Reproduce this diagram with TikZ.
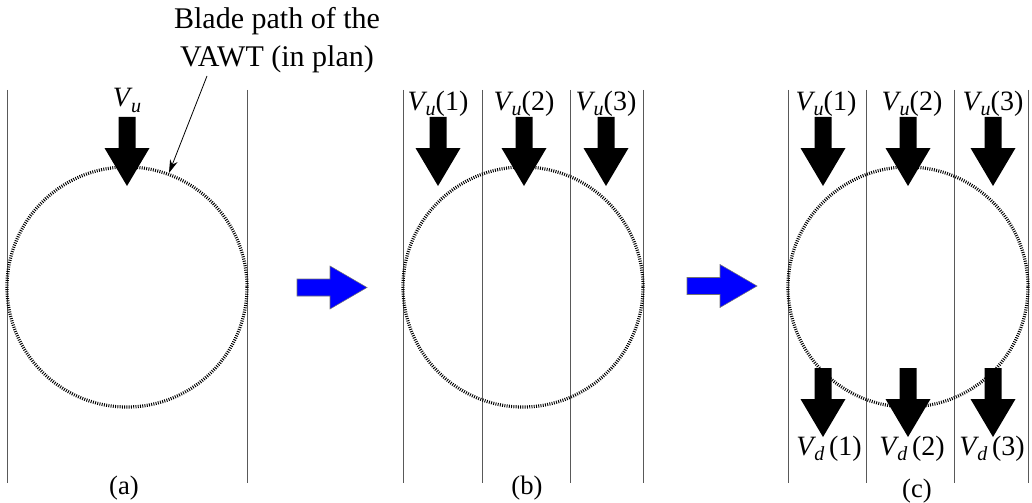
\documentclass[tikz,border=0pt]{standalone}
\usepackage{fontspec}
\setmainfont{Liberation Serif}
\usetikzlibrary{arrows.meta}
\definecolor{arrowblue}{RGB}{0,0,255}
\newcommand{\Vsub}[2]{\textit{V}\kern-0.06em\raisebox{-0.45ex}{\fontsize{15}{15}\selectfont\textit{#1}}#2}
\tikzset{
  guide/.style={draw=black!65, line width=0.6pt},
  blade/.style={draw=black, line width=2.4pt, dash pattern=on 0.7pt off 1.0pt},
  lbl/.style={font=\fontsize{21}{25}\selectfont, inner sep=0pt, anchor=base},
  panel/.style={font=\fontsize{20}{24}\selectfont, inner sep=0pt},
  note/.style={font=\fontsize{22.5}{29}\selectfont, align=center, inner sep=0pt},
  bigdown/.pic={\fill[black] (-8.5,0) -- (8.5,0) -- (8.5,31) -- (22.5,31) -- (0,69) -- (-22.5,31) -- (-8.5,31) -- cycle;},
  bluearrow/.pic={\filldraw[fill=arrowblue, draw=black!55, line width=0.4pt] (0,-8.5) -- (33,-8.5) -- (33,-21.5) -- (70,0) -- (33,21.5) -- (33,8.5) -- (0,8.5) -- cycle;},
}
\begin{document}
\begin{tikzpicture}[x=0.75pt, y=-0.75pt]
\useasboundingbox (0,0) rectangle (1032,503);
% ---------- panel (a)
\draw[guide] (7,90) -- (7,483);
\draw[guide] (247,90) -- (247,483);
\draw[blade] (127,287) circle[radius=120];
\pic at (127,117) {bigdown};
\node[lbl] (vua) at (127,107) {\Vsub{u}{}};
\node[panel] (pa) at (124,488) {(a)};
\node[note] (blade) at (277,40) {Blade path of the\\VAWT (in plan)};
\coordinate (bpstart) at (207,76);
\coordinate (bptip) at (169,173);
\draw[line width=0.6pt, -{Stealth[length=10pt,width=6pt]}] (bpstart) -- (bptip);
% blue arrow 1
\pic at (297,287.5) {bluearrow};
% ---------- panel (b)
\foreach \x in {403,482,570,643} \draw[guide] (\x,90) -- (\x,483);
\draw[blade] (523,287) circle[radius=120];
\pic at (438,117) {bigdown};
\pic at (524,117) {bigdown};
\pic at (606,117) {bigdown};
\node[lbl] (vub1) at (438,110) {\Vsub{u}{(1)}};
\node[lbl] (vub2) at (524,110) {\Vsub{u}{(2)}};
\node[lbl] (vub3) at (606,110) {\Vsub{u}{(3)}};
\node[panel] (pb) at (527,488) {(b)};
% blue arrow 2
\pic at (687,286) {bluearrow};
% ---------- panel (c)
\foreach \x in {788,866,954,1028} \draw[guide] (\x,90) -- (\x,483);
\draw[blade] (908,287) circle[radius=120];
\pic at (823,117) {bigdown};
\pic at (908,117) {bigdown};
\pic at (993,117) {bigdown};
\node[lbl] (vuc1) at (826,110) {\Vsub{u}{(1)}};
\node[lbl] (vuc2) at (912,110) {\Vsub{u}{(2)}};
\node[lbl] (vuc3) at (993,110) {\Vsub{u}{(3)}};
\pic at (823,368) {bigdown};
\pic at (908,368) {bigdown};
\pic at (993,368) {bigdown};
\node[lbl] (vdc1) at (829,455) {\Vsub{d}{\,(1)}};
\node[lbl] (vdc2) at (912,455) {\Vsub{d}{\,(2)}};
\node[lbl] (vdc3) at (992,455) {\Vsub{d}{\,(3)}};
\node[panel] (pc) at (917,491) {(c)};
\end{tikzpicture}
\end{document}
